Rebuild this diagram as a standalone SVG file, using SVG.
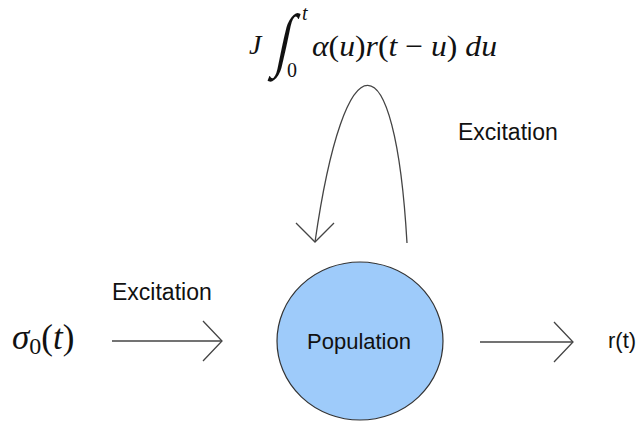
<svg xmlns="http://www.w3.org/2000/svg" width="637" height="427" viewBox="0 0 637 427">
<style>
.lbl{font-family:"Liberation Sans",Arial,sans-serif;fill:#111}
.math{font-family:"Liberation Serif","DejaVu Serif",serif;fill:#111}
.it{font-style:italic}
.conn{fill:none;stroke:#444;stroke-width:1.3}
</style>
<defs>
<marker id="chev" markerUnits="userSpaceOnUse" markerWidth="44" markerHeight="44" viewBox="-22 -22 44 44" refX="0" refY="0" orient="auto">
<path d="M-19,-20 L0,0 L-19,20" fill="none" stroke="#444" stroke-width="1.3"/>
</marker>
<marker id="chevDown" markerUnits="userSpaceOnUse" markerWidth="44" markerHeight="44" viewBox="-22 -22 44 44" refX="0" refY="0" orient="90">
<path d="M-19,-19 L0,0 L-19,19" fill="none" stroke="#444" stroke-width="1.3"/>
</marker>
</defs>
<rect width="637" height="427" fill="#fff"/>
<g id="connectors">
<path class="conn" d="M112,341 L222,341" marker-end="url(#chev)"/>
<path class="conn" d="M480,342 L573,342" marker-end="url(#chev)"/>
<path class="conn" d="M407,243 C395,33 345,33 315,242" marker-end="url(#chevDown)"/>
</g>
<g id="population">
<ellipse cx="360" cy="341" rx="83" ry="79" fill="#9ecbfa" stroke="#333" stroke-width="1.2"/>
<text class="lbl" x="359" y="349" font-size="22" text-anchor="middle">Population</text>
</g>
<g id="input">
<text class="math" x="12" y="349" font-size="35"><tspan class="it">σ</tspan><tspan font-size="24" dy="5">0</tspan><tspan dy="-5">(</tspan><tspan class="it">t</tspan><tspan>)</tspan></text>
</g>
<g id="output">
<text class="lbl" x="608" y="348" font-size="22">r(t)</text>
</g>
<g id="labels">
<text class="lbl" x="112" y="300" font-size="23">Excitation</text>
<text class="lbl" x="458" y="140" font-size="23">Excitation</text>
</g>
<g id="feedback">
<text class="math it" x="249" y="54" font-size="28">J</text>
<text class="math" x="0" y="0" font-size="50" transform="translate(274,63) skewX(-12) scale(1,1.4)">∫</text>
<text class="math it" x="302" y="20" font-size="20">t</text>
<text class="math" x="287" y="77" font-size="20">0</text>
<text class="math" x="312" y="56" font-size="30" textLength="185" lengthAdjust="spacingAndGlyphs"><tspan class="it">α</tspan>(<tspan class="it">u</tspan>)<tspan class="it">r</tspan>(<tspan class="it">t</tspan> − <tspan class="it">u</tspan>) <tspan class="it">du</tspan></text>
</g>
</svg>
